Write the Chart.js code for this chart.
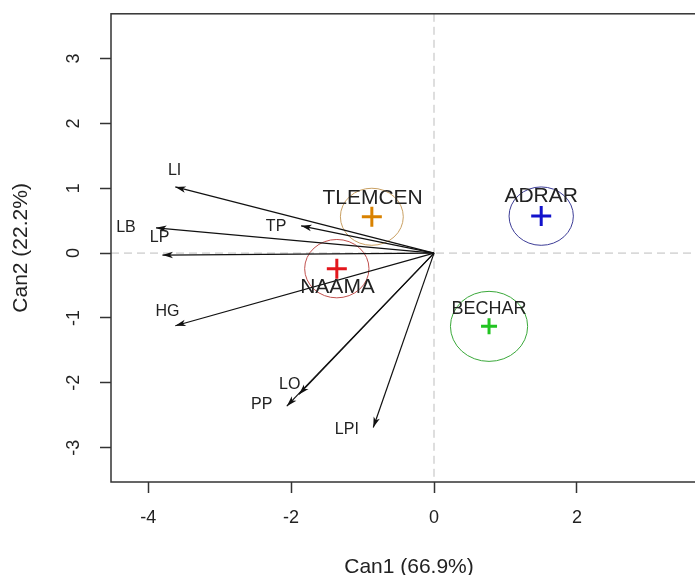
<!DOCTYPE html>
<html lang="en">
<head>
<meta charset="UTF-8">
<title>Canonical discriminant plot</title>
<style>
  html, body { margin: 0; padding: 0; background: #fff; overflow: hidden; }
  #wrap { width: 720px; height: 575px; }
</style>
</head>
<body>
<div id="wrap"><canvas id="cdaChart" width="720" height="575"></canvas></div>

<script src="https://cdn.jsdelivr.net/npm/chart.js@4.4.1/dist/chart.umd.js"></script>
<script>
// group centroids on the canonical axes
const groups = ['TLEMCEN', 'NAAMA', 'ADRAR', 'BECHAR'];
const groupX = [-0.87, -1.36, 1.50, 0.77];
const groupY = [0.56, -0.24, 0.57, -1.13];
const groupRadius = [0.44, 0.45, 0.45, 0.54];
const groupLabelX = [-0.86, -1.35, 1.50, 0.77];
const groupLabelY = [0.85, -0.53, 0.88, -0.86];

// variable vectors
const variables = ['LI', 'LB', 'LP', 'TP', 'HG', 'LO', 'PP', 'LPI'];
const varX = [-3.62, -3.89, -3.80, -1.86, -3.62, -1.89, -2.06, -0.85];
const varY = [1.02, 0.39, -0.03, 0.42, -1.12, -2.18, -2.36, -2.69];
const varLabelX = [-3.63, -4.31, -3.84, -2.21, -3.73, -2.02, -2.41, -1.22];
const varLabelY = [1.27, 0.39, 0.24, 0.41, -0.90, -2.03, -2.34, -2.72];

const xTicks = [-4, -2, 0, 2];
const yTicks = [-3, -2, -1, 0, 1, 2, 3];

const crossColors = ['#d98200', '#e3161c', '#1212cc', '#22c422'];
const circleColors = ['#c9a063', '#c0504d', '#3c3c96', '#3aa83a'];
const groupFont = [21, 21, 21, 18];
const FONT = '"Liberation Sans", Arial, sans-serif';
const TEXT = '#222';

const biplotExtras = {
    id: 'biplotExtras',
    beforeDatasetsDraw(chart) {
        const { ctx, chartArea: a, scales: { x, y } } = chart;
        ctx.save();
        // dashed zero lines
        ctx.strokeStyle = '#bdbdbd';
        ctx.lineWidth = 1;
        ctx.setLineDash([8, 5]);
        const x0 = x.getPixelForValue(0), y0 = y.getPixelForValue(0);
        ctx.beginPath();
        ctx.moveTo(x0, a.top); ctx.lineTo(x0, a.bottom);
        ctx.moveTo(a.left, y0); ctx.lineTo(a.right, y0);
        ctx.stroke();
        ctx.setLineDash([]);
        // group circles
        groups.forEach((g, i) => {
            const cx = x.getPixelForValue(groupX[i]);
            const cy = y.getPixelForValue(groupY[i]);
            const rx = Math.abs(x.getPixelForValue(groupX[i] + groupRadius[i]) - cx);
            const ry = Math.abs(y.getPixelForValue(groupY[i] + groupRadius[i]) - cy);
            ctx.strokeStyle = circleColors[i];
            ctx.lineWidth = 1;
            ctx.beginPath();
            ctx.ellipse(cx, cy, rx, ry, 0, 0, Math.PI * 2);
            ctx.stroke();
        });
        ctx.restore();
    },
    afterDatasetsDraw(chart) {
        const { ctx, chartArea: a, scales: { x, y } } = chart;
        ctx.save();
        // arrow heads
        ctx.fillStyle = '#111';
        variables.forEach((v, i) => {
            const pts = chart.getDatasetMeta(i + 1).data;
            const p0 = pts[0], p1 = pts[1];
            const ang = Math.atan2(p1.y - p0.y, p1.x - p0.x);
            const len = 11, half = 0.3;
            ctx.beginPath();
            ctx.moveTo(p1.x, p1.y);
            ctx.lineTo(p1.x - len * Math.cos(ang - half), p1.y - len * Math.sin(ang - half));
            ctx.lineTo(p1.x - len * 0.7 * Math.cos(ang), p1.y - len * 0.7 * Math.sin(ang));
            ctx.lineTo(p1.x - len * Math.cos(ang + half), p1.y - len * Math.sin(ang + half));
            ctx.closePath();
            ctx.fill();
        });
        // labels
        ctx.textAlign = 'center';
        ctx.textBaseline = 'middle';
        ctx.fillStyle = TEXT;
        ctx.font = '16px ' + FONT;
        variables.forEach((v, i) => {
            ctx.fillText(v, x.getPixelForValue(varLabelX[i]), y.getPixelForValue(varLabelY[i]));
        });
        groups.forEach((g, i) => {
            ctx.font = groupFont[i] + 'px ' + FONT;
            ctx.fillText(g, x.getPixelForValue(groupLabelX[i]), y.getPixelForValue(groupLabelY[i]));
        });
        // box
        ctx.strokeStyle = '#333';
        ctx.lineWidth = 1.5;
        ctx.strokeRect(a.left, a.top, a.right - a.left, a.bottom - a.top);
        // y tick labels, written along the axis
        ctx.font = '18px ' + FONT;
        y.ticks.forEach(t => {
            ctx.save();
            ctx.translate(74, y.getPixelForValue(t.value));
            ctx.rotate(-Math.PI / 2);
            ctx.fillText(String(t.value), 0, 0);
            ctx.restore();
        });
        ctx.restore();
    }
};

const arrowSets = variables.map((v, i) => ({
    label: v,
    data: [{ x: 0, y: 0 }, { x: varX[i], y: varY[i] }],
    showLine: true,
    borderColor: '#111',
    borderWidth: 1.2,
    pointRadius: 0,
    fill: false
}));

const groupSet = {
    label: 'groups',
    data: groups.map((g, i) => ({ x: groupX[i], y: groupY[i] })),
    pointStyle: 'cross',
    pointRadius: [10, 10, 10, 8],
    pointBorderWidth: 3,
    pointBorderColor: crossColors,
    pointBackgroundColor: crossColors,
    showLine: false
};

const tickGrid = {
    drawOnChartArea: false,
    drawTicks: true,
    tickLength: 11,
    tickColor: '#333',
    tickWidth: 1.5
};

new Chart(document.getElementById('cdaChart'), {
    type: 'scatter',
    data: { datasets: [groupSet, ...arrowSets] },
    options: {
        responsive: false,
        animation: false,
        layout: { padding: { top: 12, right: 5, left: 0, bottom: 0 } },
        plugins: { legend: { display: false }, tooltip: { enabled: false } },
        scales: {
            x: {
                type: 'linear',
                min: -4.52,
                max: 3.82,
                afterBuildTicks: s => { s.ticks = xTicks.map(v => ({ value: v })); },
                afterFit: s => { s.height = 93; },
                grid: tickGrid,
                border: { display: false },
                ticks: { color: TEXT, font: { family: FONT, size: 18 }, padding: 14, maxRotation: 0 },
                title: {
                    display: true, text: 'Can1 (66.9%)', color: TEXT,
                    font: { family: FONT, size: 21, lineHeight: 1 },
                    padding: { top: 0, bottom: -3 }
                }
            },
            y: {
                type: 'linear',
                min: -3.53,
                max: 3.69,
                afterBuildTicks: s => { s.ticks = yTicks.map(v => ({ value: v })); },
                afterFit: s => { s.width = 111; },
                grid: tickGrid,
                border: { display: false },
                ticks: { color: 'rgba(0,0,0,0)', font: { family: FONT, size: 18 } },
                title: {
                    display: true, text: 'Can2 (22.2%)', color: TEXT,
                    font: { family: FONT, size: 21, lineHeight: 1.2 },
                    padding: { top: 9, bottom: 0 }
                }
            }
        }
    },
    plugins: [biplotExtras]
});
</script>
</body>
</html>
